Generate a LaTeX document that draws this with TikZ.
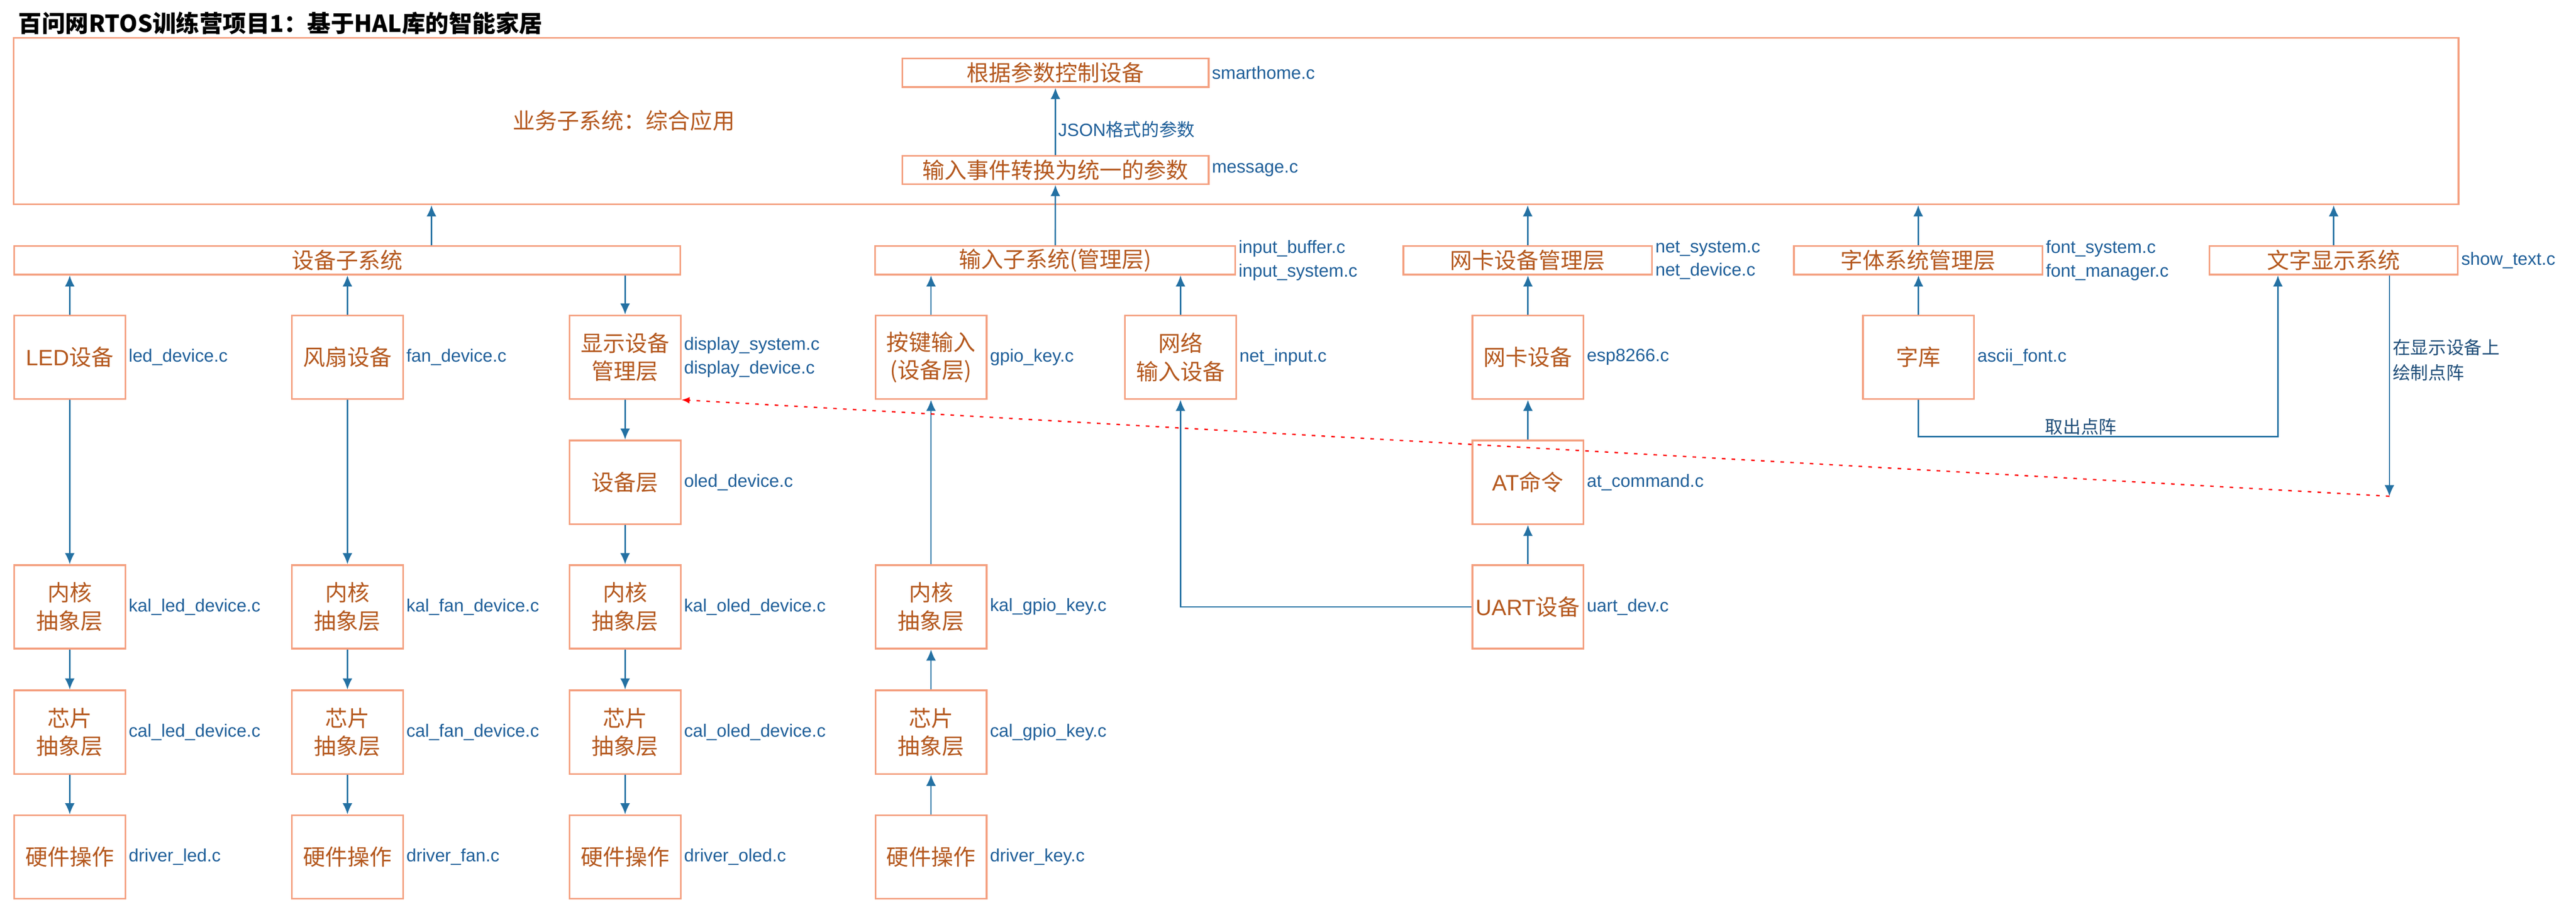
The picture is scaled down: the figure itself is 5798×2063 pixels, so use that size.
\documentclass[tikz,border=0pt]{standalone}
\usepackage{fontspec}
\setmainfont{Noto Sans CJK SC}
\newfontfamily\arial{Liberation Sans}
\usetikzlibrary{positioning, arrows.meta}

\definecolor{boxline}{HTML}{F4A080}
\definecolor{boxtext}{HTML}{B4581E}
\definecolor{labtext}{HTML}{1F5F99}
\definecolor{wirecol}{HTML}{2471A3}
\definecolor{notetext}{HTML}{1F4E79}

\newcommand{\zh}[1]{{\rmfamily #1}}

\tikzset{
    blk/.style={draw=boxline, line width=1.1pt, text=boxtext, align=center, inner sep=0pt,
        minimum width=2.5cm, minimum height=1.88cm, font=\fontsize{14.2}{18}\selectfont},
    bar/.style={blk, minimum height=0.64cm},
    lab/.style={text=labtext, align=left, inner sep=0pt, font=\arial\fontsize{11.4}{15}\selectfont},
    note/.style={text=notetext, align=left, inner sep=0pt, font=\fontsize{11.4}{16}\selectfont},
    arr/.style={wirecol, line width=0.85pt, -{Latex[length=0.25cm, width=0.22cm]}},
    hint/.style={red, line width=0.85pt, dash pattern=on 0.08cm off 0.14cm, -{Latex[length=0.18cm, width=0.15cm]}}
}

\begin{document}
\begin{tikzpicture}[x=0.01cm, y=-0.01cm]
    \useasboundingbox (0,0) rectangle (5798,2063);

    % title
    \node[anchor=west, inner sep=0pt, font=\bfseries\fontsize{15}{18}\selectfont] (title) at (41,52) {百问网RTOS训练营项目1：基于HAL库的智能家居};

    % application
    \node[draw=boxline, line width=1.1pt, minimum width=55cm, minimum height=3.75cm, inner sep=0pt] (app) at (2782,272.5) {};
    \node[text=boxtext, inner sep=0pt, font=\fontsize{14.2}{18}\selectfont] (apptxt) at (1404,272) {业务子系统：综合应用};
    \node[bar, minimum width=6.89cm] (ctrl) at (2375.5,164) {根据参数控制设备};
    \node[lab, right=0.05cm of ctrl] (ctrlf) {smarthome.c};
    \node[bar, minimum width=6.89cm] (msg) at (2375.5,382.5) {输入事件转换为统一的参数};
    \node[lab, right=0.05cm of msg] (msgf) {message.c};
    \draw[arr] (msg) -- node[lab, pos=0.38, right=0.05cm] (json) {JSON\zh{格式的参数}} (ctrl);

    % subsystems
    \node[bar, minimum width=14.99cm] (dev) at (781.5,586) {设备子系统};
    \node[bar, minimum width=8.1cm] (input) at (2375,586) {输入子系统(管理层)};
    \node[lab, right=0.05cm of input] (inputf) {input\_buffer.c\\input\_system.c};
    \node[bar, minimum width=5.59cm] (netmgr) at (3438.5,586) {网卡设备管理层};
    \node[lab, right=0.05cm of netmgr] (netmgrf) {net\_system.c\\net\_device.c};
    \node[bar, minimum width=5.59cm] (fontmgr) at (4317.5,586) {字体系统管理层};
    \node[lab, right=0.05cm of fontmgr] (fontmgrf) {font\_system.c\\font\_manager.c};
    \node[bar, minimum width=5.59cm] (show) at (5252.5,586) {文字显示系统};
    \node[lab, right=0.05cm of show] (showf) {show\_text.c};

    \draw[arr] ([xshift=1.895cm]dev.north) -- ([xshift=1.895cm]dev.north |- app.south);
    \draw[arr] (input) -- (msg);
    \draw[arr] (netmgr.north) -- (netmgr.north |- app.south);
    \draw[arr] (fontmgr.north) -- (fontmgr.north |- app.south);
    \draw[arr] (show.north) -- (show.north |- app.south);

    % devices
    \node[blk] (led) at (157,804) {{\arial LED}设备};
    \node[lab, right=0.05cm of led] (ledf) {led\_device.c};
    \node[blk] (fan) at (782,804) {风扇设备};
    \node[lab, right=0.05cm of fan] (fanf) {fan\_device.c};
    \node[blk] (disp) at (1407,804) {显示设备\\管理层};
    \node[lab, right=0.05cm of disp] (dispf) {display\_system.c\\display\_device.c};
    \node[blk] (oled) at (1407,1085.5) {设备层};
    \node[lab, right=0.05cm of oled] (oledf) {oled\_device.c};
    \node[blk] (key) at (2095.5,804) {按键输入\\(设备层)};
    \node[lab, right=0.05cm of key] (keyf) {gpio\_key.c};
    \node[blk] (netin) at (2657,804) {网络\\输入设备};
    \node[lab, right=0.05cm of netin] (netinf) {net\_input.c};
    \node[blk] (esp) at (3439,804) {网卡设备};
    \node[lab, right=0.05cm of esp] (espf) {esp8266.c};
    \node[blk] (atcmd) at (3439,1085.5) {{\arial AT}命令};
    \node[lab, right=0.05cm of atcmd] (atcmdf) {at\_command.c};
    \node[blk] (uart) at (3439,1366) {{\arial UART}设备};
    \node[lab, right=0.05cm of uart] (uartf) {uart\_dev.c};
    \node[blk] (fontlib) at (4318,804) {字库};
    \node[lab, right=0.05cm of fontlib] (fontlibf) {ascii\_font.c};

    % kernel / chip / hardware layers
    \foreach \c/\x/\f/\d in {led/157/led\_device/led, fan/782/fan\_device/fan, oled/1407/oled\_device/oled, key/2095.5/gpio\_key/key} {
        \node[blk] (kal-\c) at (\x,1366) {内核\\抽象层};
        \node[lab, right=0.05cm of kal-\c] (kalf-\c) {kal\_\f.c};
        \node[blk] (cal-\c) at (\x,1648) {芯片\\抽象层};
        \node[lab, right=0.05cm of cal-\c] (calf-\c) {cal\_\f.c};
        \node[blk] (hw-\c) at (\x,1929) {硬件操作};
        \node[lab, right=0.05cm of hw-\c] (hwf-\c) {driver\_\d.c};
    }

    % connectors
    \draw[arr] (led.north) -- (led.north |- dev.south);
    \draw[arr] (fan.north) -- (fan.north |- dev.south);
    \draw[arr] (disp.north |- dev.south) -- (disp.north);
    \draw[arr] (key.north) -- (key.north |- input.south);
    \draw[arr] (netin.north) -- (netin.north |- input.south);
    \draw[arr] (esp.north) -- (esp.north |- netmgr.south);
    \draw[arr] (fontlib.north) -- (fontlib.north |- fontmgr.south);

    \draw[arr] (led) -- (kal-led);
    \draw[arr] (fan) -- (kal-fan);
    \draw[arr] (disp) -- (oled);
    \draw[arr] (oled) -- (kal-oled);
    \foreach \c in {led,fan,oled} {
        \draw[arr] (kal-\c) -- (cal-\c);
        \draw[arr] (cal-\c) -- (hw-\c);
    }
    \draw[arr] (hw-key) -- (cal-key);
    \draw[arr] (cal-key) -- (kal-key);
    \draw[arr] (kal-key) -- (key);

    \draw[arr] (uart) -- (atcmd);
    \draw[arr] (atcmd) -- (esp);
    \draw[arr] (uart.west) -| (netin.south);

    % font path
    \coordinate (bend) at (5127,983);
    \coordinate (drawpt) at (5378,1117);
    \draw[arr] (fontlib.south) |- node[note, pos=0.726, above=0.02cm] (pick) {取出点阵} (bend) -- (bend |- show.south);
    \draw[arr] (show.south -| drawpt) -- node[note, pos=0.383, right=0.06cm] (paint) {在显示设备上\\绘制点阵} (drawpt);
    \draw[hint] (drawpt) -- (disp.south east);
\end{tikzpicture}
\end{document}
